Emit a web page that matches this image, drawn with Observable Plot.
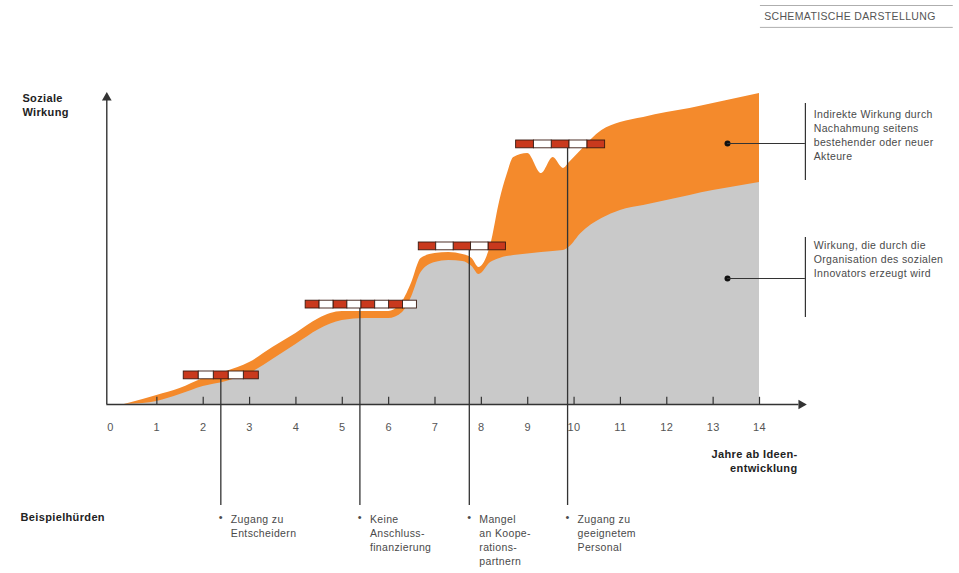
<!DOCTYPE html>
<html>
<head>
<meta charset="utf-8">
<script src="https://cdn.jsdelivr.net/npm/d3@7"></script>
<script src="https://cdn.jsdelivr.net/npm/@observablehq/plot@0.6"></script>
<style>
  html, body { margin: 0; padding: 0; background: #fff; }
  #chart svg { display: block; }
</style>
</head>
<body>
<div id="chart"></div>
<script>
// ---- Data (years since idea development; social impact in arbitrary units) ----
const years = [0.3, 0.7, 1, 1.5, 2, 2.5, 3, 3.5, 4, 4.5, 5, 5.5, 6, 6.3, 6.5, 6.7, 7, 7.3, 7.6, 7.8, 7.95, 8.2, 8.4, 8.55, 8.7, 9.0, 9.3, 9.55, 9.77, 9.9, 10.15, 10.6, 11, 11.5, 12, 12.5, 13, 13.5, 14];
// total impact (top of orange band: organisation + imitation)
const totalImpact = [0, 1.7, 3, 5.3, 8.7, 11, 14, 19, 23.7, 28.7, 31, 31, 31, 34.3, 40.7, 48.7, 50.3, 50.7, 50, 48.7, 45.7, 53, 68, 76.3, 82.3, 83.7, 77, 82.3, 78.7, 80.7, 84.7, 91.3, 94, 95.7, 97.3, 98.7, 100.3, 102, 103.7];
// impact generated by the organisation of the social innovator (grey)
const orgImpact = [0, 0.3, 1, 3.3, 6, 7.7, 10.3, 15, 20, 25, 28, 28.7, 28.7, 30.7, 36, 44, 47.3, 48, 47.7, 46, 43.3, 47.3, 48.7, 49.3, 49.7, 50.2, 50.7, 51, 51.3, 52.5, 57, 62, 64.7, 66.3, 68, 69.7, 71.3, 72.7, 74];

const tickYears = [0, 1, 2, 3, 4, 5, 6, 7, 8, 9, 10, 11, 12, 13, 14];

// hurdles (barriers)
const barrierStart = [1.58, 4.21, 6.65, 8.75];
const barrierEnd = [3.2, 6.61, 8.53, 10.67];
const barrierLevel = [9.7, 33.3, 52.7, 86.7];
const barrierSegments = [5, 8, 5, 5];
const hurdleYear = [2.38, 5.38, 7.74, 9.86];
const hurdleText = [
  "Zugang zu\nEntscheidern",
  "Keine\nAnschluss-\nfinanzierung",
  "Mangel\nan Koope-\nrations-\npartnern",
  "Zugang zu\ngeeignetem\nPersonal"
];

const titleText = "SCHEMATISCHE DARSTELLUNG";
const yLabel = "Soziale\nWirkung";
const xLabel = "Jahre ab Ideen-\nentwicklung";
const hurdleLabel = "Beispielhürden";
const noteIndirect = "Indirekte Wirkung durch\nNachahmung seitens\nbestehender oder neuer\nAkteure";
const noteDirect = "Wirkung, die durch die\nOrganisation des sozialen\nInnovators erzeugt wird";

// ---- Build tables ----
const rows = years.map((x, i) => ({x, total: totalImpact[i], org: orgImpact[i]}));
const segs = [];
barrierStart.forEach((s, i) => {
  const n = barrierSegments[i], w = (barrierEnd[i] - s) / n;
  for (let k = 0; k < n; k++) {
    segs.push({x1: s + k * w, x2: s + (k + 1) * w, y1: barrierLevel[i] - 1.3, y2: barrierLevel[i] + 1.3, red: k % 2 === 0});
  }
});

const FONT = "'Liberation Sans', Arial, Helvetica, sans-serif";
const AX = "#333";
const TXT = "#4a4a4a";
const half = 1.3;

const chart = Plot.plot({
  width: 959,
  height: 573,
  margin: 0,
  style: {fontFamily: FONT, background: "#fff", letterSpacing: "0.35px"},
  x: {domain: [0, 14], range: [110, 759], axis: null},
  y: {domain: [0, 100], range: [404, 104], axis: null},
  marks: [
    // areas
    Plot.areaY(rows, {x: "x", y: "total", fill: "#f48a2c", curve: "monotone-x"}),
    Plot.areaY(rows, {x: "x", y: "org", fill: "#c9c9c9", curve: "monotone-x"}),
    // axes
    Plot.ruleY([0], {x1: -0.08, x2: 14.85, stroke: AX, strokeWidth: 1.4}),
    Plot.ruleX([-0.08], {y1: 0, y2: 101.5, stroke: AX, strokeWidth: 1.4}),
    Plot.dot([0], {x: 14.9, y: 0, symbol: "triangle", rotate: 90, r: 3.6, fill: AX, stroke: "none"}),
    Plot.dot([0], {x: -0.08, y: 102.3, symbol: "triangle", r: 3.6, fill: AX, stroke: "none"}),
    Plot.ruleX(tickYears.filter(d => d > 0), {x: d => d, y1: 0, y2: 2.4, stroke: AX, strokeWidth: 1.2}),
    Plot.text(tickYears, {x: d => d, y: 0, dy: 23, text: d => String(d), fontSize: 11, fill: "#555"}),
    // hurdle lines
    Plot.ruleX(hurdleYear, {x: d => d, y1: (d, i) => barrierLevel[i] - half, y2: -33.7, stroke: "#333", strokeWidth: 1.3}),
    // barriers
    Plot.rect(segs.filter(d => d.red), {x1: "x1", x2: "x2", y1: "y1", y2: "y2", fill: "#c9391d", stroke: "#3a1a10", strokeWidth: 0.9}),
    Plot.rect(segs.filter(d => !d.red), {x1: "x1", x2: "x2", y1: "y1", y2: "y2", fill: "#ffffff", stroke: "#3a1a10", strokeWidth: 0.9}),
    // right notes
    Plot.dot([0], {x: 13.31, y: 87, r: 3, fill: "#111", stroke: "none"}),
    Plot.dot([0], {x: 13.31, y: 42, r: 3, fill: "#111", stroke: "none"}),
    Plot.ruleY([87, 42], {x1: 13.31, x2: 14.99, stroke: "#333", strokeWidth: 1}),
    Plot.ruleX([14.99], {y1: 100.3, y2: 74.7, stroke: "#333", strokeWidth: 1.2}),
    Plot.ruleX([14.99], {y1: 55.7, y2: 29, stroke: "#333", strokeWidth: 1.2}),
    Plot.text([noteIndirect], {x: 15.17, y: 98.7, text: d => d, textAnchor: "start", lineAnchor: "top", fontSize: 10.5, lineHeight: 1.33, fill: TXT}),
    Plot.text([noteDirect], {x: 15.17, y: 55, text: d => d, textAnchor: "start", lineAnchor: "top", fontSize: 10.5, lineHeight: 1.33, fill: TXT}),
    // axis labels
    Plot.text([yLabel], {x: -1.9, y: 104.2, text: d => d, textAnchor: "start", lineAnchor: "top", fontSize: 11, fontWeight: "bold", lineHeight: 1.3, fill: "#222"}),
    Plot.text([xLabel], {x: 14.82, y: -14.5, text: d => d, textAnchor: "end", lineAnchor: "top", fontSize: 11, fontWeight: "bold", lineHeight: 1.3, fill: "#222"}),
    Plot.text([hurdleLabel], {x: -1.94, y: -36.3, text: d => d, textAnchor: "start", lineAnchor: "top", fontSize: 11, fontWeight: "bold", fill: "#222"}),
    // hurdle texts
    Plot.text(hurdleYear, {x: d => d, y: -36.3, text: () => "•", lineAnchor: "top", fontSize: 11, fill: TXT}),
    Plot.text(hurdleYear, {x: d => d, y: -36.3, dx: 10, text: (d, i) => hurdleText[i], textAnchor: "start", lineAnchor: "top", fontSize: 10.5, lineHeight: 1.33, fill: TXT}),
    // title
    Plot.ruleY([133, 125.7], {x1: 14.02, x2: 18.18, stroke: "#999", strokeWidth: 0.8}),
    Plot.text([titleText], {x: 14.1, y: 129.4, text: d => d, textAnchor: "start", fontSize: 10.5, fill: "#555", letterSpacing: "0.6px"})
  ]
});
document.getElementById("chart").appendChild(chart);
</script>
</body>
</html>
